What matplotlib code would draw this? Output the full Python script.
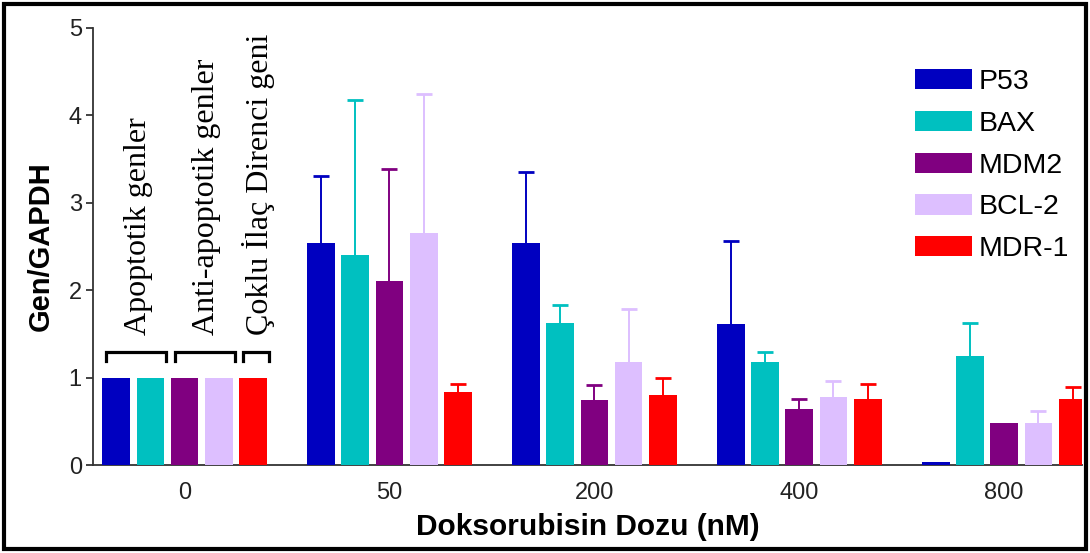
import numpy as np
import matplotlib
matplotlib.use("Agg")
import matplotlib.pyplot as plt
from matplotlib.patches import Rectangle

plt.rcParams['font.family'] = ['Liberation Sans', 'DejaVu Sans']

# Veri
doses = ['0', '50', '200', '400', '800']
genes = ['P53', 'BAX', 'MDM2', 'BCL-2', 'MDR-1']
colors = ['#0000C0', '#00C0C0', '#800080', '#DDBFFF', '#FF0000']

p53 = [1.0, 2.54, 2.54, 1.61, 0.04]
bax = [1.0, 2.40, 1.625, 1.18, 1.25]
mdm2 = [1.0, 2.10, 0.74, 0.64, 0.48]
bcl2 = [1.0, 2.65, 1.18, 0.78, 0.48]
mdr1 = [1.0, 0.84, 0.80, 0.76, 0.76]

p53_err = [0, 0.77, 0.81, 0.95, 0]
bax_err = [0, 1.78, 0.20, 0.11, 0.38]
mdm2_err = [0, 1.29, 0.17, 0.12, 0]
bcl2_err = [0, 1.59, 0.60, 0.18, 0.14]
mdr1_err = [0, 0.09, 0.20, 0.17, 0.13]

values = [p53, bax, mdm2, bcl2, mdr1]
errors = [p53_err, bax_err, mdm2_err, bcl2_err, mdr1_err]

# 0 nM grubundaki gen grupları (çubuk indeksleri)
group_labels = ['Apoptotik genler', 'Anti-apoptotik genler', 'Çoklu İlaç Direnci geni']
group_bars = [(0, 1), (2, 3), (4, 4)]

fig = plt.figure(figsize=(10.9, 5.53), dpi=100)
ax = fig.add_axes([0.0853, 0.1591, 0.9074, 0.7903])

x = np.arange(len(doses))
step = 0.167
width = 0.135

for k, (gene, vals, errs, c) in enumerate(zip(genes, values, errors, colors)):
    pos = x + (k - 2) * step
    ax.bar(pos, vals, width=width, color=c, label=gene, zorder=3)
    errs = np.array(errs)
    m = errs > 0
    eb = ax.errorbar(pos[m], np.array(vals)[m], yerr=[np.zeros(m.sum()), errs[m]],
                     fmt='none', ecolor=c, elinewidth=1.4, capsize=5.5, capthick=2, zorder=2)
    # sadece üst kapak
    eb[1][0].set_visible(False)

# Köşeli parantezler ve dikey yazılar
for (a, b), lab in zip(group_bars, group_labels):
    x0 = (a - 2) * step - width / 2 + 0.02
    x1 = (b - 2) * step + width / 2 + 0.01
    ax.plot([x0, x0, x1, x1], [1.19, 1.293, 1.293, 1.19], color='black',
            lw=2.3, solid_joinstyle='miter', zorder=4)
    ax.text((x0 + x1) / 2 + 0.01, 1.49, lab, rotation=90, ha='center', va='bottom',
            family=['Liberation Serif', 'DejaVu Serif'], fontsize=23)

ax.set_xlim(-0.447, 4.38)
ax.set_ylim(0, 5)
ax.set_yticks([0, 1, 2, 3, 4, 5])
ax.set_xticks(x)
ax.set_xticklabels(doses)
ax.tick_params(axis='y', length=5, width=1.2, pad=3, labelsize=17, colors='#222222')
ax.tick_params(axis='x', length=0, pad=12, labelsize=17, colors='#222222')
ax.spines['top'].set_visible(False)
ax.spines['right'].set_visible(False)
for s in ['left', 'bottom']:
    ax.spines[s].set_color('#333333')
    ax.spines[s].set_linewidth(1.3)

ax.set_xlabel('Doksorubisin Dozu (nM)', fontsize=21.5, fontweight='bold', labelpad=7)
ax.set_ylabel('Gen/GAPDH', fontsize=21, fontweight='bold', labelpad=10)

ax.legend(loc='upper left', bbox_to_anchor=(915 / 1090, (553 - 69) / 553),
          bbox_transform=fig.transFigure, frameon=False, fontsize=20.5,
          handlelength=2.0, handleheight=0.72, handletextpad=0.25,
          labelspacing=0.55, borderpad=0, borderaxespad=0)

# Çerçeve
fig.patches.append(Rectangle((0.004, 0.007), 0.992, 0.986, transform=fig.transFigure,
                             fill=False, edgecolor='black', lw=3))

fig.savefig('out.png', dpi=100)
